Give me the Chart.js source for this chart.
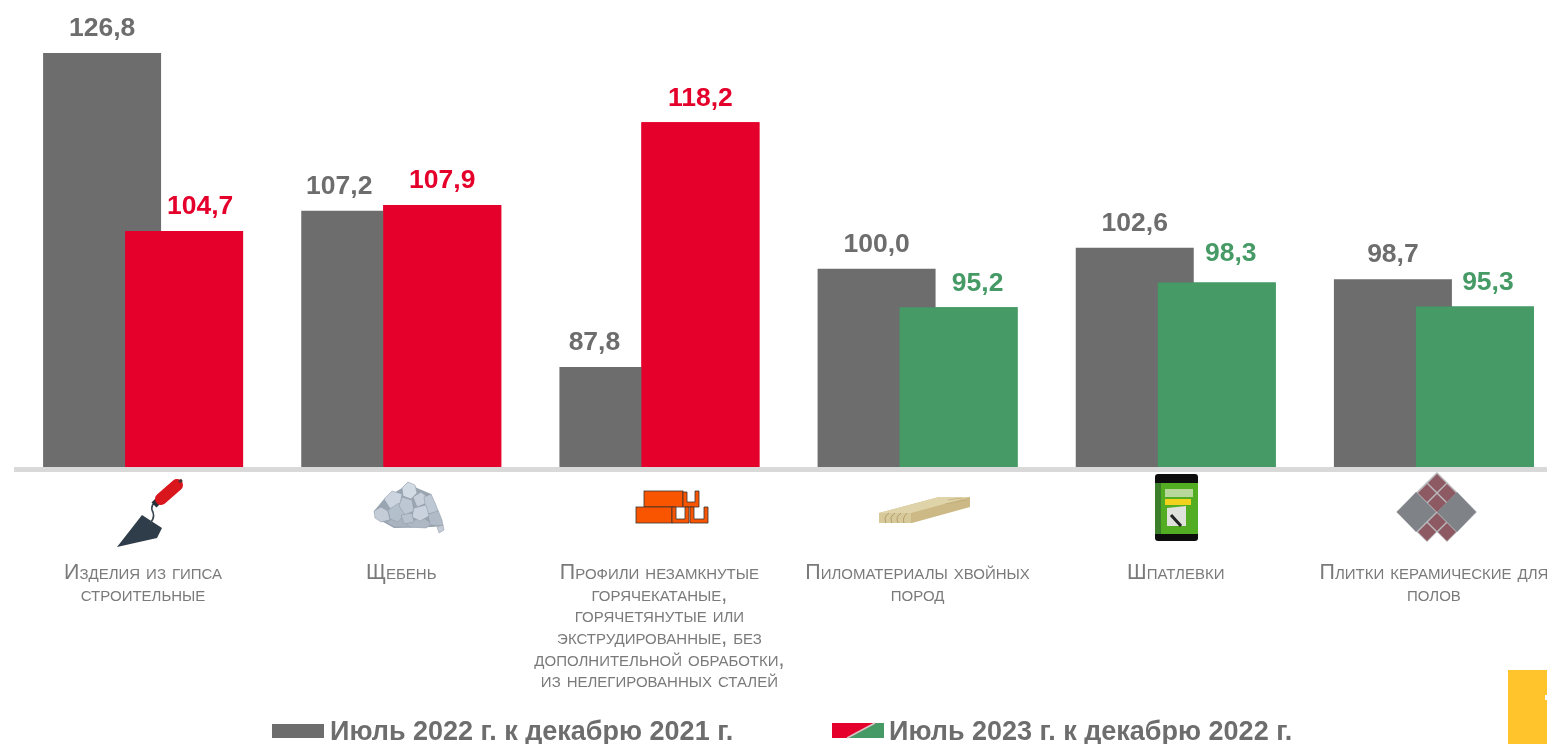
<!DOCTYPE html>
<html lang="ru">
<head>
<meta charset="utf-8">
<title>Индексы цен</title>
<script src="https://cdn.jsdelivr.net/npm/chart.js@4"></script>
<style>
html,body{margin:0;padding:0;background:#fff;overflow:hidden;width:1547px;height:744px}
#wrap{position:relative;width:1547px;height:744px;overflow:hidden}
#art{position:absolute;left:0;top:0}
#c{position:absolute;left:0;top:0}
</style>
</head>
<body>
<div id="wrap">
<svg id="art" width="1547" height="744" viewBox="0 0 1547 744" xmlns="http://www.w3.org/2000/svg">
  <defs><filter id="soft"><feGaussianBlur stdDeviation="0.55"/></filter></defs>
  <g filter="url(#soft)">
    <!-- trowel -->
    <polygon points="117,547 142,515 162,528 157,538" fill="#2f3d48"/>
    <path d="M150,523 Q156,517 152,510 Q151,505 155,503" fill="none" stroke="#3a4650" stroke-width="1.6"/>
    <path d="M154,505 L159,500" stroke="#26323a" stroke-width="7"/>
    <path d="M161,499 L177,485" stroke="#d9141e" stroke-width="12" stroke-linecap="round"/>
    <path d="M179,482 L182,480" stroke="#4a3038" stroke-width="3"/>
    <!-- crushed stone -->
    <polygon points="374,511 384,499 402,488 408,482 417,488 431,494 443,526 432,527 394,528 376,518" fill="#9aa5b2"/>
    <g stroke="#8c97a5" stroke-width="0.5" stroke-linejoin="round">
      <polygon points="374,511 381,507 388,511 390,520 381,522 375,518" fill="#c3ccd7"/>
      <polygon points="386,522 398,516 409,522 412,527 394,527" fill="#aab4c1"/>
      <polygon points="405,522 424,518 432,524 426,528 409,527" fill="#aeb8c5"/>
      <polygon points="428,514 438,510 442,520 443,526 430,525" fill="#b1bbc8"/>
      <polygon points="437,527 443,525 444,530 439,533" fill="#c3ccd6"/>
      <polygon points="384,499 392,491 402,494 400,505 391,510" fill="#ccd5df"/>
      <polygon points="388,510 399,503 405,514 398,522 390,519" fill="#b4bfcc"/>
      <polygon points="402,488 408,482 415,485 417,493 411,499 403,496" fill="#d2dae3"/>
      <polygon points="402,497 412,500 414,511 405,515 399,506" fill="#bdc7d3"/>
      <polygon points="413,497 421,492 426,496 427,503 417,507" fill="#c6cfda"/>
      <polygon points="424,497 431,494 436,505 438,511 428,514 425,505" fill="#bec8d4"/>
      <polygon points="414,508 426,505 429,516 420,521 412,517" fill="#cad3dd"/>
      <polygon points="401,515 412,513 414,522 404,524" fill="#b8c2ce"/>
    </g>
    <!-- steel profile -->
    <g fill="#f95500" stroke="#3a3030" stroke-width="0.8">
      <rect x="644" y="491" width="39" height="16"/>
      <rect x="636" y="507" width="36" height="16"/>
      <path d="M683,492 V507 H699 V491 H695 V502 H687 V492 Z"/>
      <path d="M672,507 V523 H689 V507 H685 V519 H676 V507 Z"/>
      <path d="M690,507 V523 H708 V507 H704 V519 H694 V507 Z"/>
    </g>
    <!-- timber board -->
    <polygon points="879,513 939,497 970,497 970,507 912,523 879,523" fill="#cdb985"/>
    <polygon points="879,513 939,497 970,497 911,513" fill="#dfd3aa"/>
    <polygon points="879,513 911,513 911,523 879,523" fill="#d8c99b"/>
    <path d="M886,523 Q883,517 889,513 M892,523 Q889,517 895,513 M898,523 Q895,517 901,513 M904,523 Q902,518 907,513" fill="none" stroke="#a8925f" stroke-width="0.8"/>
    <path d="M948,500 L962,498 M945,504 L966,500" stroke="#c2ad79" stroke-width="0.8"/>
    <!-- bag of filler -->
    <rect x="1155" y="474" width="43" height="67" rx="3" fill="#0d0d0d"/>
    <rect x="1155" y="483" width="43" height="51" fill="#52ad22"/>
    <rect x="1155" y="483" width="6" height="51" fill="#3a7f2c"/>
    <rect x="1165" y="489" width="28" height="8" fill="#b7d89a"/>
    <rect x="1165" y="499" width="26" height="6" fill="#f2d21b"/>
    <polygon points="1167,508 1186,506 1186,526 1167,526" fill="#dfe2da"/>
    <path d="M1171,515 L1181,526" stroke="#222" stroke-width="3"/>
    <!-- ceramic tiles -->
    <polygon points="1437,472 1477,512 1447,542 1437,532 1427,542 1396,512" fill="#b9babc"/>
    <polygon points="1416,492 1436,512 1416,532 1397,512" fill="#7f8287"/>
    <polygon points="1457,492 1476,512 1457,532 1437,512" fill="#7f8287"/>
    <g fill="#8d5a64">
      <polygon points="1437,474 1446,483 1437,492 1428,483"/>
      <polygon points="1427,484 1436,493 1427,502 1418,493"/>
      <polygon points="1447,484 1456,493 1447,502 1438,493"/>
      <polygon points="1437,494 1446,503 1437,512 1428,503"/>
      <polygon points="1437,513 1446,522 1437,531 1428,522"/>
      <polygon points="1427,523 1436,532 1427,541 1418,532"/>
      <polygon points="1447,523 1456,532 1447,541 1438,532"/>
    </g>
  </g>
  <!-- corner badge -->
  <rect x="1508" y="670" width="39" height="74" fill="#ffc32b"/>
  <rect x="1545" y="695" width="2" height="5" fill="#fff"/>
</svg>
<canvas id="c" width="1563" height="744" style="width:1563px;height:744px"></canvas>
</div>
<script>
// ---- data ----
const categories = [
  ["Изделия из гипса", "строительные"],
  ["Щебень"],
  ["Профили незамкнутые", "горячекатаные,", "горячетянутые или", "экструдированные, без", "дополнительной обработки,", "из нелегированных сталей"],
  ["Пиломатериалы хвойных", "пород"],
  ["Шпатлевки"],
  ["Плитки керамические для", "полов"]
];
const seriesNames = ["Июль 2022 г. к декабрю 2021 г.", "Июль 2023 г. к декабрю 2022 г."];
const values2022 = [126.8, 107.2, 87.8, 100.0, 102.6, 98.7];
const values2023 = [104.7, 107.9, 118.2, 95.2, 98.3, 95.3];

// ---- styling ----
const GREY = "#6d6d6d", RED = "#e4002b", GREEN = "#459a66";
const colorOf2023 = v => (v > 100 ? RED : GREEN);
const FONT = '"Liberation Sans", Arial, sans-serif';
const AXIS_MIN = 75.37, AXIS_MAX = 133.38;
// shift of value labels where the two bars overlap
const labelShift = [[0, -21, -24, 0, 0, 0], [16, 0, 0, 19, 14, 13]];
const labelLift = [[24, 24, 24, 24, 24, 24], [24, 24, 24, 24, 29, 24]];
const comma = v => v.toFixed(1).replace(".", ",");

const overlay = {
  id: "overlay",
  beforeDatasetsDraw(chart) {
    const { ctx, chartArea } = chart;
    ctx.save();
    ctx.fillStyle = "#d9d9d9";
    ctx.fillRect(chartArea.left, chartArea.bottom, 1547 - chartArea.left, 5);
    ctx.restore();
  },
  afterDatasetsDraw(chart) {
    const { ctx } = chart;
    // the later series sits in front of the earlier one
    chart.getDatasetMeta(1).controller.draw();
    ctx.save();
    ctx.textAlign = "center";
    ctx.textBaseline = "middle";
    ctx.font = "bold 26.5px " + FONT;
    chart.data.datasets.forEach((ds, d) => {
      chart.getDatasetMeta(d).data.forEach((bar, i) => {
        ctx.fillStyle = d === 0 ? GREY : colorOf2023(ds.data[i]);
        ctx.fillText(comma(ds.data[i]), bar.x + labelShift[d][i], bar.y - labelLift[d][i]);
      });
    });
    // legend
    ctx.textAlign = "left";
    ctx.font = "bold 27px " + FONT;
    ctx.fillStyle = GREY;
    ctx.fillRect(272, 724, 52, 14);
    ctx.fillText(seriesNames[0], 330, 733);
    ctx.fillText(seriesNames[1], 889, 733);
    ctx.fillStyle = RED;
    ctx.fillRect(832, 723, 52, 15);
    ctx.fillStyle = GREEN;
    ctx.beginPath();
    ctx.moveTo(876, 723); ctx.lineTo(884, 723); ctx.lineTo(884, 738); ctx.lineTo(848, 738);
    ctx.closePath(); ctx.fill();
    ctx.strokeStyle = "#d8c8c8";
    ctx.lineWidth = 1.5;
    ctx.beginPath(); ctx.moveTo(875, 723); ctx.lineTo(847, 738); ctx.stroke();
    ctx.restore();
  }
};

new Chart(document.getElementById("c"), {
  type: "bar",
  data: {
    labels: categories,
    datasets: [
      { label: seriesNames[0], data: values2022, backgroundColor: GREY, borderWidth: 0, base: AXIS_MIN,
        categoryPercentage: 0.6352, barPercentage: 1.439 },
      { label: seriesNames[1], data: values2023, backgroundColor: values2023.map(colorOf2023), borderWidth: 0, base: AXIS_MIN,
        categoryPercentage: 0.6352, barPercentage: 1.439 }
    ]
  },
  plugins: [overlay],
  options: {
    responsive: false,
    animation: false,
    layout: { padding: { left: 14, right: 0, top: 0, bottom: 0 } },
    plugins: { legend: { display: false }, tooltip: { enabled: false } },
    scales: {
      x: {
        grid: { display: false, drawTicks: false },
        border: { display: false },
        afterFit(scale) { scale.height = 277; scale.paddingLeft = 0; scale.paddingRight = 0; },
        ticks: {
          autoSkip: false, maxRotation: 0, minRotation: 0, padding: 95.5,
          color: "#7a7a7a",
          // Chart.js only validates font.style, so the caps variant travels in the weight slot
          font: { family: FONT, size: 21.4, weight: "small-caps", lineHeight: "21.6px" }
        }
      },
      y: { display: false, min: AXIS_MIN, max: AXIS_MAX, grid: { display: false } }
    }
  }
});
</script>
</body>
</html>
